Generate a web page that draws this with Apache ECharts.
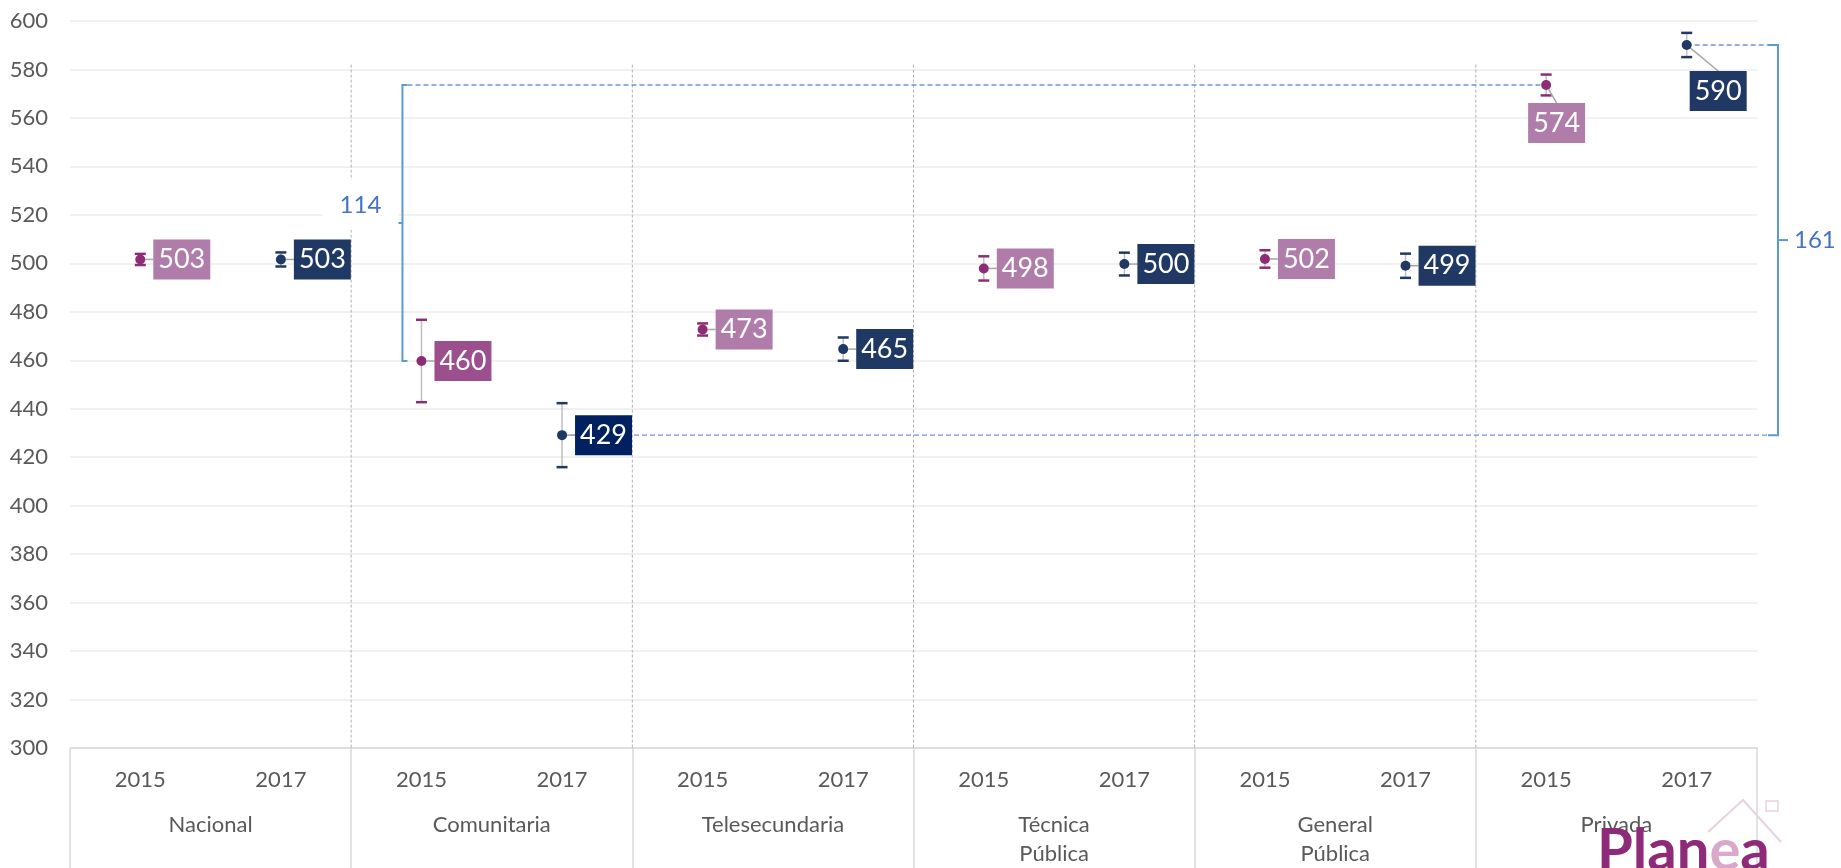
<!DOCTYPE html>
<html>
<head>
<meta charset="utf-8">
<script src="https://cdn.jsdelivr.net/npm/echarts@6/dist/echarts.min.js"></script>
<style>
  html, body { margin: 0; padding: 0; background: #fff; }
  #chart { width: 1841px; height: 868px; }
</style>
</head>
<body>
<div id="chart"></div>
<script>
'use strict';

const groups = ['Nacional', 'Comunitaria', 'Telesecundaria', 'Técnica\nPública', 'General\nPública', 'Privada'];
const years = ['2015', '2017'];

// where the points sit, and the published (rounded) score shown in the boxes
const mean2015 = [501.6, 459.7, 472.7, 497.9, 501.8, 573.6];
const mean2017 = [501.6, 429.1, 464.6, 499.7, 499.0, 590.1];
const label2015 = ['503', '460', '473', '498', '502', '574'];
const label2017 = ['503', '429', '465', '500', '499', '590'];

// half width of the error bars
const err2015 = [2.3, 17, 2.5, 5, 3.6, 4.3];
const err2017 = [2.9, 13.2, 4.8, 4.7, 5, 5];

// Comunitaria vs Privada gap, per year
const gapText = ['114', '161'];

const yMin = 300, yMax = 600, yStep = 20;

const FONT = 'Lato';
const purple = '#8B2C75', purpleBox = '#B07CA9', purpleDark = '#9B4F8D';
const navy = '#203864', navyBox = '#203864', navyDark = '#002060';
const blue = '#5B9BD5', blueText = '#4472C4', blueDash = '#6F93D3';

const categories = groups.flatMap(() => years);

function pointData(means, yi, box, boxDark) {
  return means.map((v, g) => ({
    value: [g * 2 + yi, v],
    label: { backgroundColor: g === 1 ? boxDark : box }
  }));
}

function errSeries(means, errs, yi, color) {
  return {
    type: 'custom',
    z: 2,
    silent: true,
    clip: false,
    data: means.map((v, g) => [g * 2 + yi, v - errs[g], v + errs[g]]),
    renderItem: (params, api) => {
      const lo = api.coord([api.value(0), api.value(1)]);
      const hi = api.coord([api.value(0), api.value(2)]);
      return {
        type: 'group',
        children: [
          { type: 'line', shape: { x1: lo[0], y1: lo[1], x2: hi[0], y2: hi[1] }, style: { stroke: '#BFBFBF', lineWidth: 1.5 } },
          { type: 'line', shape: { x1: lo[0] - 5.5, y1: lo[1], x2: lo[0] + 5.5, y2: lo[1] }, style: { stroke: color, lineWidth: 2.5 } },
          { type: 'line', shape: { x1: hi[0] - 5.5, y1: hi[1], x2: hi[0] + 5.5, y2: hi[1] }, style: { stroke: color, lineWidth: 2.5 } }
        ]
      };
    }
  };
}

const chart = echarts.init(document.getElementById('chart'));

const boxLabel = (labels) => ({
  show: true,
  position: 'right',
  distance: 8,
  color: '#fff',
  fontFamily: FONT,
  fontSize: 27,
  lineHeight: 30,
  padding: [5, 5, 5, 5],
  formatter: p => labels[p.dataIndex]
});

const option = {
  animation: false,
  backgroundColor: '#fff',
  textStyle: { fontFamily: FONT },
  grid: { left: 70, right: 84, top: 21, bottom: 120 },
  xAxis: [
    {
      type: 'category',
      data: categories,
      axisLine: { lineStyle: { color: '#D9D9D9', width: 1.5 } },
      axisTick: { show: false },
      axisLabel: { margin: 20, fontSize: 22, lineHeight: 24, color: '#595959', fontFamily: FONT, interval: 0 },
      splitLine: { show: false }
    },
    {
      type: 'category',
      data: groups,
      position: 'bottom',
      axisLine: { show: false },
      axisTick: { show: true, length: 120, lineStyle: { color: '#D9D9D9', width: 1.5 } },
      axisLabel: { margin: 62, fontSize: 22, lineHeight: 29, color: '#595959', fontFamily: FONT, interval: 0 },
      splitLine: { show: false }
    }
  ],
  yAxis: {
    type: 'value',
    min: yMin,
    max: yMax,
    interval: yStep,
    axisLine: { show: false },
    axisTick: { show: false },
    axisLabel: { margin: 22, fontSize: 22, color: '#595959', fontFamily: FONT },
    splitLine: { lineStyle: { color: '#EDEDED', width: 1.5 } }
  },
  series: [
    // dashed group separators inside the plot
    {
      type: 'custom',
      z: 1,
      silent: true,
      data: groups.slice(1).map((g, i) => i + 1),
      renderItem: (params, api) => {
        const g = params.dataIndex + 1;
        const x = (api.coord([2 * g - 1, yMax])[0] + api.coord([2 * g, yMax])[0]) / 2;
        const top = api.coord([0, 582])[1];
        const bottom = api.coord([0, yMin])[1];
        return {
          type: 'line',
          shape: { x1: x, y1: top, x2: x, y2: bottom },
          style: { stroke: '#B0B0B0', lineWidth: 1, lineDash: [3, 2] }
        };
      }
    },
    errSeries(mean2015, err2015, 0, purple),
    errSeries(mean2017, err2017, 1, navy),
    // gap brackets
    {
      type: 'custom',
      z: 3,
      silent: true,
      clip: false,
      data: [0, 1],
      renderItem: (params, api) => {
        const k = params.dataIndex;
        const means = k === 0 ? mean2015 : mean2017;
        const pLo = api.coord([2 + k, means[1]]);
        const pHi = api.coord([10 + k, means[5]]);
        const mid = (pLo[1] + pHi[1]) / 2;
        const solid = { stroke: blue, lineWidth: 2, fill: 'none' };
        const dashed = { stroke: blueDash, lineWidth: 1.3, lineDash: [5, 3] };
        const ch = [];
        if (k === 0) {
          const bx = pLo[0] - 19;
          ch.push(
            { type: 'line', shape: { x1: bx + 5, y1: pHi[1], x2: pHi[0], y2: pHi[1] }, style: dashed },
            { type: 'polyline', shape: { points: [[bx + 5, pHi[1]], [bx, pHi[1]], [bx, pLo[1]], [bx + 5, pLo[1]]] }, style: solid },
            { type: 'line', shape: { x1: bx - 5, y1: mid, x2: bx, y2: mid }, style: solid },
            {
              type: 'text', x: bx - 42, y: mid - 18,
              style: {
                text: gapText[0], fill: blueText, fontFamily: FONT, fontSize: 24,
                align: 'center', verticalAlign: 'middle',
                backgroundColor: '#fff', padding: [13, 17]
              }
            }
          );
        } else {
          const bx = params.coordSys.x + params.coordSys.width + 21;
          ch.push(
            { type: 'line', shape: { x1: pHi[0], y1: pHi[1], x2: bx - 10, y2: pHi[1] }, style: dashed },
            { type: 'line', shape: { x1: pLo[0], y1: pLo[1], x2: bx - 10, y2: pLo[1] }, style: dashed },
            { type: 'polyline', shape: { points: [[bx - 10, pHi[1]], [bx, pHi[1]], [bx, pLo[1]], [bx - 10, pLo[1]]] }, style: solid },
            { type: 'line', shape: { x1: bx, y1: mid, x2: bx + 10, y2: mid }, style: solid },
            {
              type: 'text', x: bx + 16, y: mid,
              style: {
                text: gapText[1], fill: blueText, fontFamily: FONT, fontSize: 24,
                align: 'left', verticalAlign: 'middle'
              }
            }
          );
        }
        return { type: 'group', children: ch };
      }
    },
    {
      name: '2015',
      type: 'scatter',
      z: 5,
      symbol: 'circle',
      symbolSize: 10,
      itemStyle: { color: purple, opacity: 1 },
      label: boxLabel(label2015),
      labelLine: { show: true, lineStyle: { color: '#A6A6A6', width: 1.5 } },
      labelLayout: p => (p.dataIndex === 5 ? { dx: -31, dy: 38 } : {}),
      data: pointData(mean2015, 0, purpleBox, purpleDark)
    },
    {
      name: '2017',
      type: 'scatter',
      z: 5,
      symbol: 'circle',
      symbolSize: 10,
      itemStyle: { color: navy, opacity: 1 },
      label: boxLabel(label2017),
      labelLine: { show: true, lineStyle: { color: '#A6A6A6', width: 1.5 } },
      labelLayout: p => (p.dataIndex === 5 ? { dx: -10, dy: 46 } : {}),
      data: pointData(mean2017, 1, navyBox, navyDark)
    }
  ],
  // Planea logo, bottom right
  graphic: [
    {
      type: 'polyline', z: 20, silent: true,
      shape: { points: [[1708, 832], [1743, 800], [1781, 842]] },
      style: { stroke: '#E6D3E0', lineWidth: 2, fill: 'none' }
    },
    {
      type: 'rect', z: 20, silent: true,
      shape: { x: 1766, y: 801, width: 12, height: 10 },
      style: { stroke: '#E6D3E0', lineWidth: 1.5, fill: 'none' }
    },
    {
      type: 'text', z: 21, silent: true,
      left: 1597, top: 822,
      style: {
        text: '{a|Plan}{b|e}{a|a}',
        rich: {
          a: { fill: '#8E2A78', fontFamily: FONT, fontWeight: 'bold', fontSize: 58 },
          b: { fill: '#D9A8CB', fontFamily: FONT, fontWeight: 'bold', fontSize: 58 }
        }
      }
    }
  ]
};

chart.setOption(option);
</script>
</body>
</html>
